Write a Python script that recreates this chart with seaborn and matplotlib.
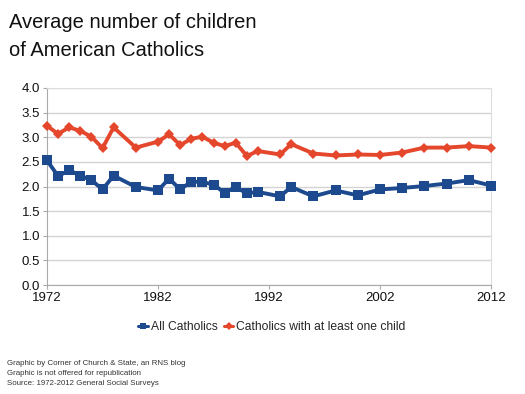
import numpy as np
import pandas as pd
import matplotlib
matplotlib.use("Agg")
import matplotlib.pyplot as plt
import seaborn as sns

# GSS survey years
years = [1972, 1973, 1974, 1975, 1976, 1977, 1978, 1980, 1982, 1983, 1984,
         1985, 1986, 1987, 1988, 1989, 1990, 1991, 1993, 1994, 1996, 1998,
         2000, 2002, 2004, 2006, 2008, 2010, 2012]

all_catholics = [2.53, 2.21, 2.33, 2.22, 2.13, 1.94, 2.22, 1.99, 1.92, 2.16,
                 1.94, 2.10, 2.09, 2.04, 1.87, 1.99, 1.86, 1.89, 1.80, 1.99,
                 1.80, 1.92, 1.82, 1.94, 1.97, 2.01, 2.06, 2.13, 2.02]

with_child = [3.23, 3.07, 3.20, 3.13, 3.01, 2.78, 3.20, 2.79, 2.91, 3.06,
              2.84, 2.97, 3.01, 2.89, 2.82, 2.89, 2.62, 2.72, 2.65, 2.86,
              2.67, 2.63, 2.65, 2.64, 2.69, 2.79, 2.79, 2.82, 2.79]

series_names = ["All Catholics", "Catholics with at least one child"]
x_ticks = [1972, 1982, 1992, 2002, 2012]
y_ticks = [0.0, 0.5, 1.0, 1.5, 2.0, 2.5, 3.0, 3.5, 4.0]

df = pd.DataFrame({
    "Year": years * 2,
    "Children": all_catholics + with_child,
    "Series": [series_names[0]] * len(years) + [series_names[1]] * len(years),
})

sns.set_style("white")
plt.rcParams["font.family"] = ["Liberation Sans", "DejaVu Sans"]

fig = plt.figure(figsize=(5.25, 3.94), dpi=100)
ax = fig.add_axes([47 / 525, 1 - 285 / 394, 444 / 525, 197 / 394])

sns.lineplot(data=df, x="Year", y="Children", hue="Series", style="Series",
             palette=["#1d4a8e", "#e4472c"], markers=["s", "D"], dashes=False,
             linewidth=2.8, markersize=7, markeredgewidth=0, ax=ax,
             clip_on=False, zorder=3)

# smaller diamonds for the red series
for line in ax.get_lines():
    if line.get_marker() == "D":
        line.set_markersize(5)

ax.set_xlim(1972, 2012)
ax.set_ylim(0, 4)
ax.set_xticks(x_ticks)
ax.set_xticklabels([str(t) for t in x_ticks])
ax.set_yticks(y_ticks)
ax.set_yticklabels([f"{t:.1f}" for t in y_ticks])
ax.yaxis.grid(True, color="#d4d4d4", linewidth=1)
ax.set_xlabel("")
ax.set_ylabel("")
ax.tick_params(axis="both", labelsize=9.5, labelcolor="#111111", length=3,
               color="#aaaaaa", pad=2, direction="out", left=True, bottom=True)
for s in ["left", "bottom"]:
    ax.spines[s].set_color("#aaaaaa")
for s in ["top", "right"]:
    ax.spines[s].set_color("#dddddd")

handles, labels = ax.get_legend_handles_labels()
leg = ax.legend(handles, labels, loc="center", bbox_to_anchor=(0.5 + 3 / 444, -0.215),
                ncol=2, frameon=False, fontsize=8.7, handlelength=0.8,
                handletextpad=0.25, columnspacing=0.5)
for h in leg.legend_handles:
    h.set_markersize(4)
    h.set_linewidth(2.2)

fig.text(9 / 525, 1 - 28 / 394, "Average number of children",
         fontsize=14.5, color="#111111")
fig.text(9 / 525, 1 - 56 / 394, "of American Catholics",
         fontsize=14.5, color="#111111")

footer = ["Graphic by Corner of Church & State, an RNS blog",
          "Graphic is not offered for republication",
          "Source: 1972-2012 General Social Surveys"]
for i, line in enumerate(footer):
    fig.text(7 / 525, 1 - (365 + i * 10) / 394, line, fontsize=5.7,
             color="#333333")

fig.savefig("out.png", dpi=100)
